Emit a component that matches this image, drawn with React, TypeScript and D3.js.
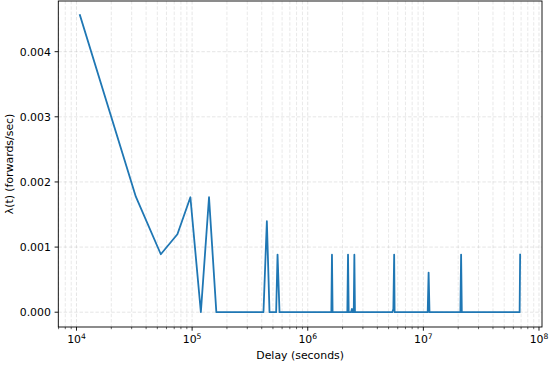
import { useEffect, useRef } from 'react';
import * as d3 from 'd3';

// delay (s) and lambda (forwards/sec)
const delays = [
  1.07e4, 3.26e4, 5.36e4, 7.46e4, 9.66e4, 1.19e5, 1.40e5, 1.62e5,
  4.14e5, 4.43e5, 4.67e5, 5.33e5, 5.48e5, 5.70e5,
  1.60e6, 1.62e6, 1.64e6, 2.20e6, 2.23e6, 2.26e6,
  2.37e6, 2.41e6, 2.45e6, 2.50e6, 2.53e6, 2.56e6,
  5.38e6, 5.50e6, 5.59e6, 5.64e6,
  1.09e7, 1.11e7, 1.13e7, 2.09e7, 2.12e7, 2.15e7, 6.80e7, 6.87e7,
];
const lambdas = [
  0.004563, 0.001774, 0.00089, 0.001197, 0.001765, 0, 0.001765, 0,
  0, 0.001397, 0, 0, 0.000884, 0,
  0, 0.000884, 0, 0, 0.000884, 0,
  0, 0.00005, 0, 0, 0.000884, 0,
  0, 0.00005, 0.000884, 0,
  0, 0.000608, 0, 0, 0.000884, 0, 0, 0.000884,
];
const yTicks = [0, 0.001, 0.002, 0.003, 0.004];
const xMajor = [1e4, 1e5, 1e6, 1e7, 1e8];

const W = 550;
const H = 365;
const FONT = 'DejaVu Sans, sans-serif';
const FS = 10.9;

export default function App() {
  const svgRef = useRef<SVGSVGElement | null>(null);

  useEffect(() => {
    if (!svgRef.current) return;
    const svg = d3.select(svgRef.current);
    svg.selectAll('*').remove();

    const left = 58.3, right = 542, top = 1, bottom = 327;

    const x = d3.scaleLog()
      .domain([Math.pow(10, 3.8426), Math.pow(10, 8.026)])
      .range([left, right]);
    const y = d3.scaleLinear()
      .domain([-0.000227, 0.004778])
      .range([bottom, top]);

    // minor log ticks
    const xMinor: number[] = [];
    for (let e = 3; e <= 8; e++) {
      for (let m = 2; m <= 9; m++) {
        const v = m * Math.pow(10, e);
        const px = x(v);
        if (px >= left && px <= right) xMinor.push(v);
      }
    }

    const grid = svg.append('g');
    grid.selectAll('line.minor')
      .data(xMinor)
      .enter()
      .append('line')
      .attr('x1', d => x(d)).attr('x2', d => x(d))
      .attr('y1', top).attr('y2', bottom)
      .attr('stroke', '#b0b0b0')
      .attr('stroke-opacity', 0.35)
      .attr('stroke-width', 0.8)
      .attr('stroke-dasharray', '3.5,1.8');
    grid.selectAll('line.major')
      .data(xMajor.filter(d => x(d) <= right))
      .enter()
      .append('line')
      .attr('x1', d => x(d)).attr('x2', d => x(d))
      .attr('y1', top).attr('y2', bottom)
      .attr('stroke', '#b0b0b0')
      .attr('stroke-opacity', 0.4)
      .attr('stroke-width', 0.8)
      .attr('stroke-dasharray', '3.5,1.8');
    grid.selectAll('line.y')
      .data(yTicks)
      .enter()
      .append('line')
      .attr('x1', left).attr('x2', right)
      .attr('y1', d => y(d)).attr('y2', d => y(d))
      .attr('stroke', '#b0b0b0')
      .attr('stroke-opacity', 0.4)
      .attr('stroke-width', 0.8)
      .attr('stroke-dasharray', '3.5,1.8');

    // the series
    const line = d3.line<number>()
      .x((_, i) => x(delays[i]))
      .y(d => y(d));
    svg.append('path')
      .datum(lambdas)
      .attr('d', line)
      .attr('fill', 'none')
      .attr('stroke', '#1f77b4')
      .attr('stroke-width', 1.8)
      .attr('stroke-linejoin', 'round')
      .attr('stroke-linecap', 'square');

    // spines
    svg.append('rect')
      .attr('x', left).attr('y', top)
      .attr('width', right - left).attr('height', bottom - top)
      .attr('fill', 'none')
      .attr('stroke', '#000')
      .attr('stroke-width', 0.9);

    // x ticks
    const xt = svg.append('g');
    xt.selectAll('line.mi')
      .data(xMinor)
      .enter()
      .append('line')
      .attr('x1', d => x(d)).attr('x2', d => x(d))
      .attr('y1', bottom).attr('y2', bottom + 2.2)
      .attr('stroke', '#000').attr('stroke-width', 0.6);
    const maj = xt.selectAll('g.maj')
      .data(xMajor)
      .enter()
      .append('g')
      .attr('transform', d => `translate(${x(d)},0)`);
    maj.append('line')
      .attr('y1', bottom).attr('y2', bottom + 3.7)
      .attr('stroke', '#000').attr('stroke-width', 0.9);
    const lbl = maj.append('text')
      .attr('y', bottom + 16)
      .attr('text-anchor', 'middle')
      .style('font-family', FONT)
      .style('font-size', FS + 'px')
      .attr('fill', '#000');
    lbl.append('tspan').text('10');
    lbl.append('tspan')
      .attr('dy', -4.5)
      .style('font-size', (FS * 0.7) + 'px')
      .text(d => String(Math.round(Math.log10(d))));

    // y ticks
    const yt = svg.append('g')
      .selectAll('g')
      .data(yTicks)
      .enter()
      .append('g')
      .attr('transform', d => `translate(0,${y(d)})`);
    yt.append('line')
      .attr('x1', left - 3.7).attr('x2', left)
      .attr('stroke', '#000').attr('stroke-width', 0.9);
    yt.append('text')
      .attr('x', left - 7.4)
      .attr('dy', '0.35em')
      .attr('text-anchor', 'end')
      .style('font-family', FONT)
      .style('font-size', FS + 'px')
      .attr('fill', '#000')
      .text(d => d3.format('.3f')(d));

    // axis labels
    svg.append('text')
      .attr('x', (left + right) / 2)
      .attr('y', 359)
      .attr('text-anchor', 'middle')
      .style('font-family', FONT)
      .style('font-size', FS + 'px')
      .text('Delay (seconds)');
    svg.append('text')
      .attr('transform', `translate(12.5,${(top + bottom) / 2}) rotate(-90)`)
      .attr('text-anchor', 'middle')
      .style('font-family', FONT)
      .style('font-size', FS + 'px')
      .text('λ(t) (forwards/sec)');
  }, []);

  return (
    <div style={{ position: 'fixed', left: 0, top: 0, width: W, height: H, background: '#fff' }}>
      <svg ref={svgRef} width={W} height={H} style={{ display: 'block' }} />
    </div>
  );
}
